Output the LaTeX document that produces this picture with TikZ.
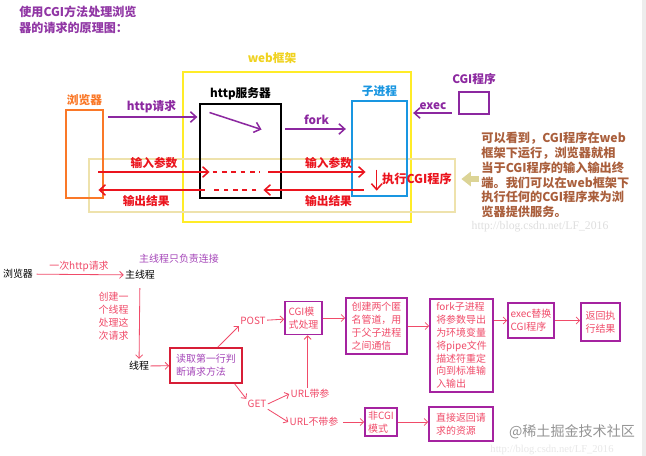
\documentclass[tikz,border=0pt]{standalone}
\usepackage{fontspec}
\setmainfont{Noto Sans CJK SC}
\newfontfamily\wmfont{Liberation Serif}
\usetikzlibrary{arrows.meta,positioning,calc}
\definecolor{titlePurple}{RGB}{145,55,165}
\definecolor{cgiPurple}{RGB}{140,40,160}
\definecolor{cgiRed}{RGB}{235,20,30}
\definecolor{cgiOrange}{RGB}{250,120,40}
\definecolor{cgiBlue}{RGB}{25,150,225}
\definecolor{cgiYellow}{RGB}{255,236,40}
\definecolor{webYellow}{RGB}{240,210,30}
\definecolor{cgiTan}{RGB}{238,226,172}
\definecolor{fatTan}{RGB}{220,212,150}
\definecolor{noteBrown}{RGB}{170,95,60}
\definecolor{flowPink}{RGB}{240,75,105}
\definecolor{flowBox}{RGB}{165,35,160}
\definecolor{readRed}{RGB}{215,30,55}
\definecolor{flowText}{RGB}{165,70,185}

\begin{document}
\begin{tikzpicture}[x=0.03cm, y=-0.03cm,
    every node/.style={inner sep=1pt},
    toptext/.style={font=\fontsize{10}{12}\selectfont\bfseries},
    framebox/.style={draw, line width=2.5pt, inner sep=0pt},
    purpArrow/.style={cgiPurple, line width=1.3pt, -{Straight Barb[length=5pt,width=9pt]}},
    redArrow/.style={cgiRed, line width=1.3pt, -{Straight Barb[length=5pt,width=9pt]}},
    redDash/.style={cgiRed, line width=1.3pt, dash pattern=on 4pt off 4pt},
    flowtext/.style={font=\fontsize{8.5}{11}\selectfont},
    flowbox/.style={draw=flowBox, line width=1.4pt, inner sep=2pt, flowtext, text=flowPink, align=left},
    flow/.style={flowPink, line width=0.7pt, -{Straight Barb[length=3pt,width=6pt]}}]
  \useasboundingbox (0,0) rectangle (646,456);
  \fill[white] (0,0) rectangle (646,456);
  \fill[black!7] (642,0) rectangle (646,456);

  % title
  \node[anchor=north west, align=left, text=titlePurple, font=\fontsize{10.3}{13.6}\selectfont\bfseries] (title) at (18,5)
    {使用CGI方法处理浏览\\器的请求的原理图：};

  % web framework and the in/out band
  \draw[cgiYellow, line width=1.6pt] (183,72) rectangle (411,222);
  \node[toptext, text=webYellow] (webLbl) at (272,58) {web框架};
  \draw[cgiTan, line width=1.2pt] (89,159) rectangle (455,212);

  % the boxes
  \node[framebox, cgiOrange, minimum width=1.11cm, minimum height=2.64cm] (browser) at (84.5,154) {};
  \node[framebox, black, minimum width=2.43cm, minimum height=2.82cm] (server) at (240.5,151) {};
  \node[framebox, cgiBlue, minimum width=1.65cm, minimum height=2.85cm] (child) at (379.5,148.5) {};
  \node[framebox, cgiPurple, minimum width=0.9cm, minimum height=0.66cm] (cgiprog) at (474,103) {};
  \node[toptext, text=cgiOrange, above=1pt of browser] (browserLbl) {浏览器};
  \node[toptext, above=1pt of server] (serverLbl) {http服务器};
  \node[toptext, text=cgiBlue, above=1pt of child] (childLbl) {子进程};
  \node[toptext, text=cgiPurple, above=4pt of cgiprog] (cgiprogLbl) {CGI程序};

  % rows of the arrows
  \coordinate (rowReq) at (0,117);
  \coordinate (rowFork) at (0,129);
  \coordinate (rowExec) at (0,113);
  \coordinate (rowIn) at (0,172);
  \coordinate (rowOut) at (0,190);

  % request, fork and exec
  \draw[purpArrow, shorten <=3pt, shorten >=1pt] (browser.east |- rowReq) -- (server.west |- rowReq)
    node[midway, above=2pt, toptext, text=cgiPurple] (reqLbl) {http请求};
  \draw[purpArrow] ($(server.north west)+(11,10)$) -- ($(server.north west)+(63,27)$);
  \draw[purpArrow, shorten <=2.3pt, shorten >=4pt] (server.east |- rowFork) -- (child.west |- rowFork)
    node[midway, above=2pt, toptext, text=cgiPurple] (forkLbl) {fork};
  \draw[purpArrow, shorten <=4.9pt, shorten >=4pt] (cgiprog.west |- rowExec) -- (child.east |- rowExec)
    node[midway, above=1pt, toptext, text=cgiPurple] (execLblTop) {exec};

  % input parameters
  \draw[redArrow] ($(browser.east |- rowIn)+(-6,0)$) -- ($(server.west |- rowIn)+(11,0)$)
    node[midway, above=1pt, toptext, text=cgiRed] (inLblA) {输入参数};
  \draw[redDash] ($(server.west |- rowIn)+(14,0)$) -- ($(server.east |- rowIn)+(-22,0)$);
  \draw[redArrow] ($(server.east |- rowIn)+(-14,0)$) -- ($(child.west |- rowIn)+(15,0)$)
    node[pos=0.62, above=1pt, toptext, text=cgiRed] (inLblB) {输入参数};

  % output results
  \draw[redArrow] ($(child.west |- rowOut)+(13,0)$) -- ($(server.east |- rowOut)+(-19,0)$)
    node[pos=0.35, below=3pt, toptext, text=cgiRed] (outLblB) {输出结果};
  \draw[redDash] ($(server.east |- rowOut)+(-26,0)$) -- ($(server.west |- rowOut)+(12,0)$);
  \draw[redArrow] ($(server.west |- rowOut)+(6,0)$) -- ($(browser.east |- rowOut)+(-6,0)$)
    node[pos=0.55, below=3pt, toptext, text=cgiRed] (outLblA) {输出结果};

  % running the CGI program
  \node[toptext, text=cgiRed, font=\fontsize{10.4}{12}\selectfont\bfseries] (runLbl) at (417,179) {执行CGI程序};
  \draw[redArrow] ([xshift=-3.5pt, yshift=8pt]runLbl.west) -- ([xshift=-3.5pt, yshift=-10pt]runLbl.west);

  % note on the right
  \node[anchor=north west, align=left, text=noteBrown, font=\fontsize{10.4}{12.6}\selectfont\bfseries] (note) at (480,131)
    {可以看到，CGI程序在web\\框架下运行，浏览器就相\\当于CGI程序的输入输出终\\端。我们可以在web框架下\\执行任何的CGI程序来为浏\\览器提供服务。};
  \draw[fatTan, line width=4.5pt, -{Triangle[length=8pt,width=12pt]}, shorten <=1pt]
    (note.west |- runLbl) -- ([xshift=7pt]runLbl.east);
  \node[text=black!13, font=\wmfont\fontsize{10}{12}\selectfont] (wmTop) at (540,227) {http://blog.csdn.net/LF\_2016};

  % lower flow: thread per request
  \node[flowtext] (bBrowser) at (18,274) {浏览器};
  \node[flowtext] (mainThr) at (140,275) {主线程};
  \node[flowtext, text=flowText] (mainNote) at (179,259) {主线程只负责连接};
  \node[flowtext] (thread) at (139,366) {线程};
  \draw[flow, shorten <=2pt] (bBrowser) -- (mainThr)
    node[midway, above=1pt, flowtext, text=flowPink] (reqOnce) {一次http请求};
  \draw[flow, shorten <=6pt, shorten >=1pt] (mainThr) -- (thread)
    node[pos=0.45, left=8pt, flowtext, text=flowPink, align=left] (createLbl) {创建一\\个线程\\处理这\\次请求};

  \node[flowbox, draw=readRed, text=flowText, minimum width=2.16cm, minimum height=1.05cm] (readBox) at (206,365.5)
    {读取第一行判\\断请求方法};
  \draw[flow] (thread) -- (readBox);
  \node[flowtext, text=flowPink] (post) at (253,321) {POST};
  \node[flowtext, text=flowPink] (get) at (257,404) {GET};
  \draw[flow] ([xshift=10pt]readBox.north) -- (post.south west);
  \draw[flow] ([xshift=-7pt]readBox.south east) -- (get.north west);

  \node[flowbox, minimum width=1.11cm, minimum height=0.99cm] (cgiBox) at (303.5,318) {CGI模\\式处理};
  \node[flowbox, minimum width=1.83cm, minimum height=1.68cm] (pipeBox) at (376.5,326)
    {创建两个匿\\名管道，用\\于父子进程\\之间通信};
  \node[flowbox, minimum width=1.89cm, minimum height=2.79cm] (forkBox) at (461.5,345.5)
    {fork子进程\\将参数导出\\为环境变量\\将pipe文件\\描述符重定\\向到标准输\\入输出};
  \node[flowbox, minimum width=1.38cm, minimum height=1.05cm] (execBox) at (531,320.5) {exec替换\\CGI程序};
  \node[flowbox, minimum width=1.17cm, minimum height=1.14cm] (resBox) at (600.5,322) {返回执\\行结果};
  \draw[flow] (post) -- (cgiBox);
  \draw[flow] (cgiBox.east) -- (cgiBox.east -| pipeBox.west);
  \draw[flow] (pipeBox.east) -- (pipeBox.east -| forkBox.west);
  \draw[flow] (execBox.west -| forkBox.east) -- (execBox.west);
  \draw[flow] (execBox.east) -- (execBox.east -| resBox.west);

  \node[flowtext, text=flowPink] (urlArg) at (310,394) {URL带参};
  \node[flowtext, text=flowPink] (urlNo) at (314,422) {URL不带参};
  \draw[flow] (get.east) -- (urlArg.west);
  \draw[flow] (get.south east) -- (urlNo.west);
  \draw[flow] ([xshift=-2pt]urlArg.north) -- ([xshift=-2pt]urlArg.north |- cgiBox.south);

  \node[flowbox, minimum width=0.96cm, minimum height=0.84cm] (nonBox) at (381,422) {非CGI\\模式};
  \node[flowbox, minimum width=1.92cm, minimum height=1.02cm] (directBox) at (461,424) {直接返回请\\求的资源};
  \draw[flow, shorten <=3pt] (urlNo) -- (nonBox);
  \draw[flow] (nonBox.east) -- (nonBox.east -| directBox.west);

  % watermarks
  \node[text=black!9, font=\wmfont\fontsize{9}{10}\selectfont] (wmLow) at (552,450) {http://blog.csdn.net/LF\_2016};
  \node[text=black!42, font=\fontsize{12}{14}\selectfont] (wmJj) at (572,432) {@稀土掘金技术社区};
\end{tikzpicture}
\end{document}
